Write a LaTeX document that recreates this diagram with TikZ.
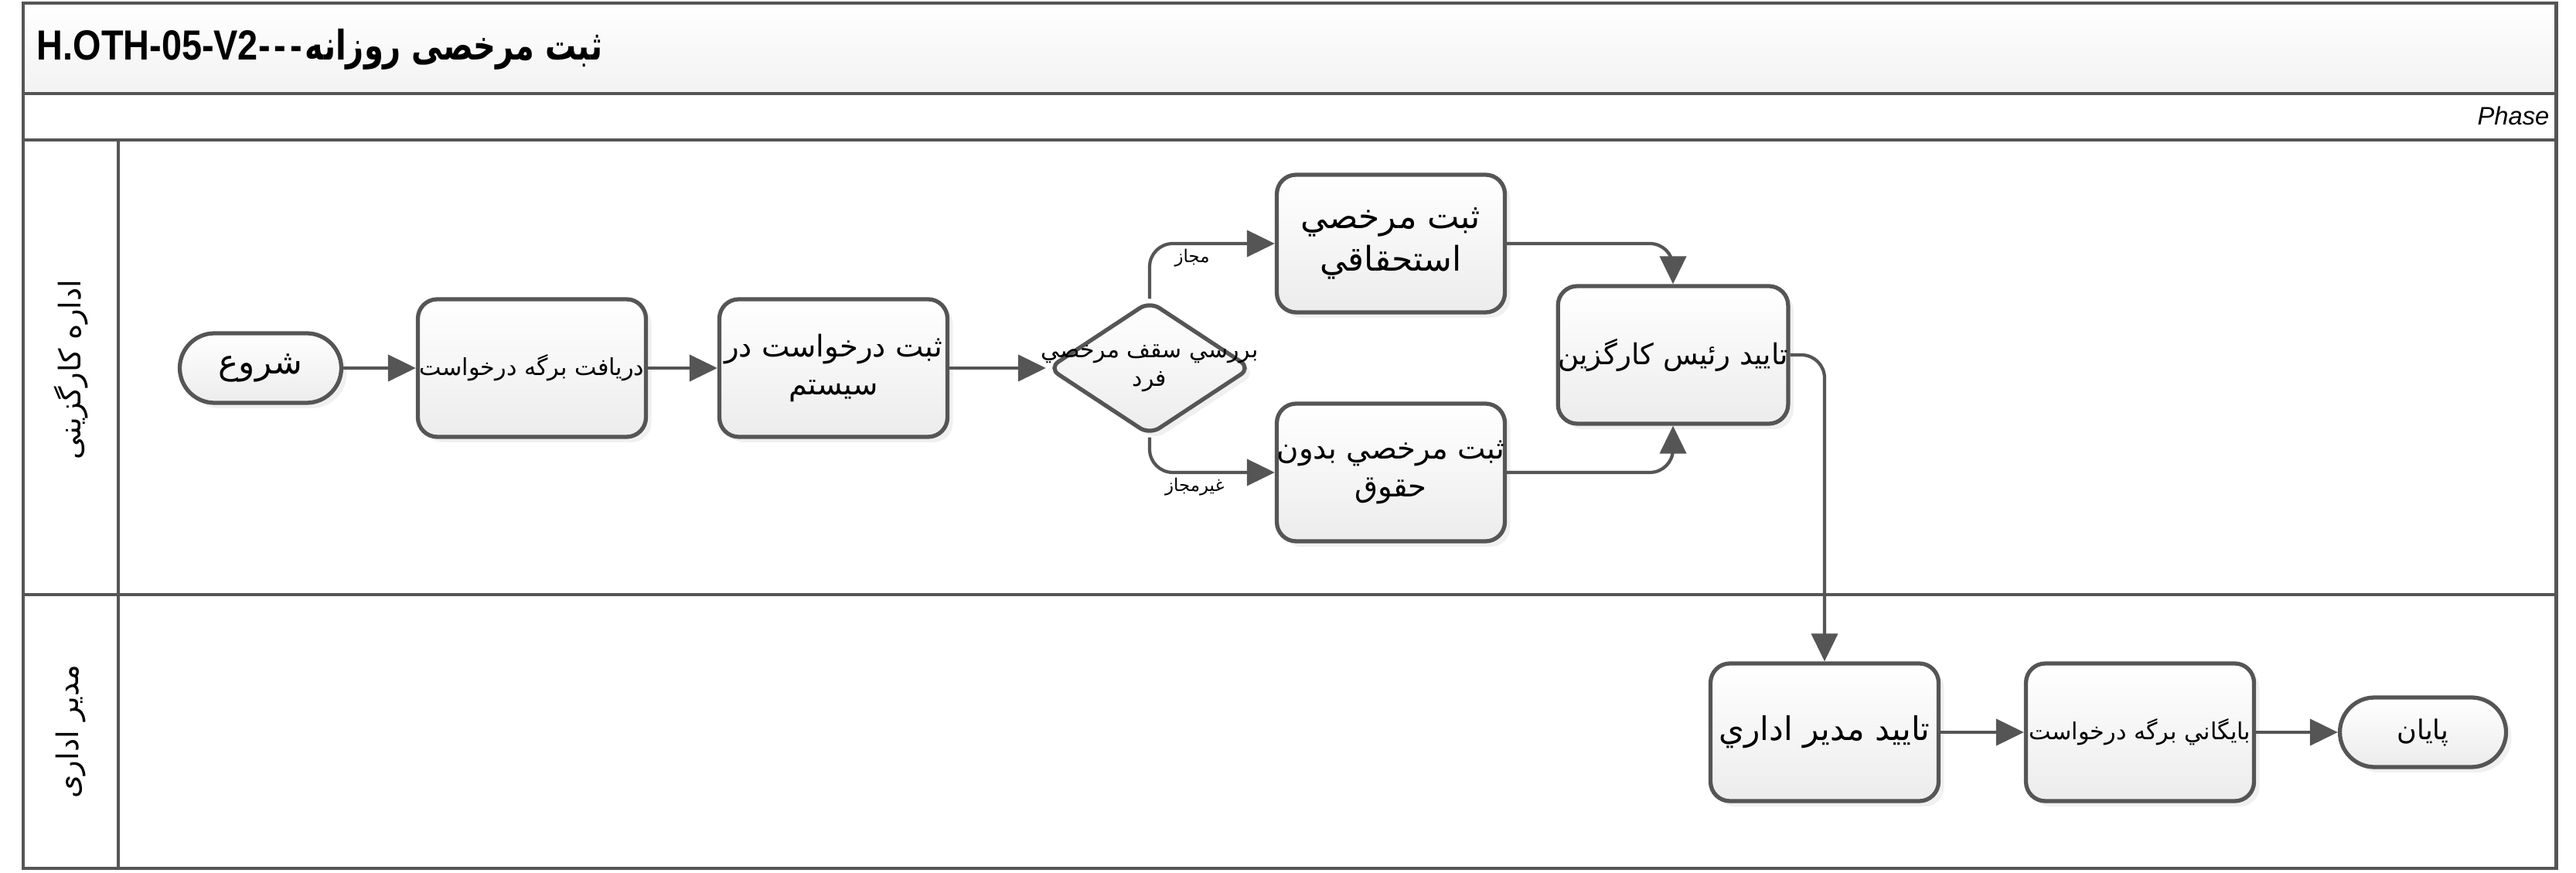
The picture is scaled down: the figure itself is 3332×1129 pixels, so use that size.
\documentclass[tikz,border=0pt]{standalone}
\usepackage{fontspec}
\setmainfont{Liberation Sans}
\newfontfamily\fa[Script=Arabic]{DejaVu Sans}
\newfontfamily\fatitle[Script=Arabic,FakeStretch=0.76]{DejaVu Sans}
\newfontfamily\lattitle[FakeStretch=0.86]{Liberation Sans}
\TeXXeTstate=1
\usetikzlibrary{shapes.geometric, shapes.misc, arrows.meta, positioning, shadows}
\definecolor{linegray}{RGB}{85, 85, 85}
\definecolor{boxfill}{RGB}{236, 236, 236}
\newcommand{\rl}[1]{\beginR #1\endR}
\newcommand{\fasize}[1]{\fa\fontsize{#1}{1.25\dimexpr#1\relax}\selectfont}

\tikzset{
  frame/.style={draw=linegray, line width=1.4pt},
  task/.style={draw=linegray, line width=1.5pt, rounded corners=2.5mm,
    top color=white, bottom color=boxfill, minimum width=29.5mm,
    minimum height=17.8mm, align=center, inner sep=0pt,
    drop shadow={shadow xshift=0.7mm, shadow yshift=-0.7mm, opacity=0.12}},
  terminal/.style={rounded rectangle, draw=linegray, line width=1.5pt,
    top color=white, bottom color=boxfill, minimum height=9mm,
    inner sep=0.5mm,
    drop shadow={shadow xshift=0.7mm, shadow yshift=-0.7mm, opacity=0.12}},
  gate/.style={diamond, draw=linegray, line width=1.5pt, rounded corners=1.5mm,
    top color=white, bottom color=boxfill, minimum width=26.3mm,
    minimum height=17.4mm, inner sep=0pt,
    drop shadow={shadow xshift=0.7mm, shadow yshift=-0.7mm, opacity=0.12}},
  flow/.style={draw=linegray, line width=1.2pt, rounded corners=3mm,
    -{Triangle[length=3.6mm, width=3.4mm]}},
  lbl/.style={font=\fasize{6.5pt}, inner sep=0.5mm}
}

\begin{document}
\begin{tikzpicture}[x=0.1mm, y=-0.1mm]
  \useasboundingbox (0,0) rectangle (3332,1129);

  % pool and lanes
  \shade[top color=white, bottom color=black!5] (30,4) rectangle (3306,121);
  \draw[frame] (30,4) rectangle (3306,1123);
  \draw[frame] (30,121) -- (3306,121);
  \draw[frame] (30,181) -- (3306,181);
  \draw[frame] (30,769) -- (3306,769);
  \draw[frame] (153,181) -- (153,1123);

  \node[anchor=west, inner sep=0] (title) at (47,64)
    {\lattitle\bfseries\fontsize{15.5pt}{18pt}\selectfont H.OTH-05-V2-\kern1.5pt-\kern1.5pt-\kern1pt{\fatitle\bfseries\fontsize{15pt}{18pt}\selectfont\rl{ثبت مرخصی روزانه}}};
  \node[anchor=east, inner sep=0, font=\itshape\fontsize{9.3pt}{11pt}\selectfont] (phase) at (3298,150) {Phase};

  \node[rotate=90, font=\fasize{11pt}] (lane1) at (92,478) {\rl{اداره کارگزینی}};
  \node[rotate=90, font=\fasize{11pt}] (lane2) at (92,946) {\rl{مدیر اداری}};

  % lane 1
  \node[terminal, minimum width=21.9mm, font=\fasize{12.5pt}] (start) at (337,476) {\rl{شروع}};
  \node[task, font=\fasize{8.6pt}] (recv) at (688,476) {\rl{دریافت برگه درخواست}};
  \node[task, font=\fasize{11pt}] (reg) at (1078,476) {\rl{ثبت درخواست در}\\\rl{سیستم}};
  \node[gate] (dec) at (1487,476) {};
  \node[font=\fasize{8.5pt}, align=center, inner sep=0] (dectext) at (dec.center) {\rl{بررسي سقف مرخصي}\\\rl{فرد}};
  \node[task, font=\fasize{12.5pt}] (paid) at (1799,315) {\rl{ثبت مرخصي}\\\rl{استحقاقي}};
  \node[task, font=\fasize{11pt}] (unpaid) at (1799,611) {\rl{ثبت مرخصي بدون}\\\rl{حقوق}};
  \node[task, font=\fasize{10.6pt}] (head) at (2164,459) {\rl{تاييد رئيس كارگزين}};

  % lane 2
  \node[task, font=\fasize{12pt}] (admin) at (2360,947) {\rl{تاييد مدير اداري}};
  \node[task, font=\fasize{8.6pt}] (arch) at (2768,947) {\rl{بايگاني برگه درخواست}};
  \node[terminal, minimum width=22.5mm, font=\fasize{10pt}] (end) at (3134,947) {\rl{پایان}};

  \draw[flow] (start) -- (recv);
  \draw[flow] (recv) -- (reg);
  \draw[flow] (reg) -- (dec);
  \draw[flow] (dec.north) |- node[lbl, pos=0.67, below] {\rl{مجاز}} (paid.west);
  \draw[flow] (dec.south) |- node[lbl, pos=0.68, below] {\rl{غیرمجاز}} (unpaid.west);
  \draw[flow] (paid.east) -| (head.north);
  \draw[flow] (unpaid.east) -| (head.south);
  \draw[flow] (head.east) -| (admin.north);
  \draw[flow] (admin) -- (arch);
  \draw[flow] (arch) -- (end);
\end{tikzpicture}
\end{document}
